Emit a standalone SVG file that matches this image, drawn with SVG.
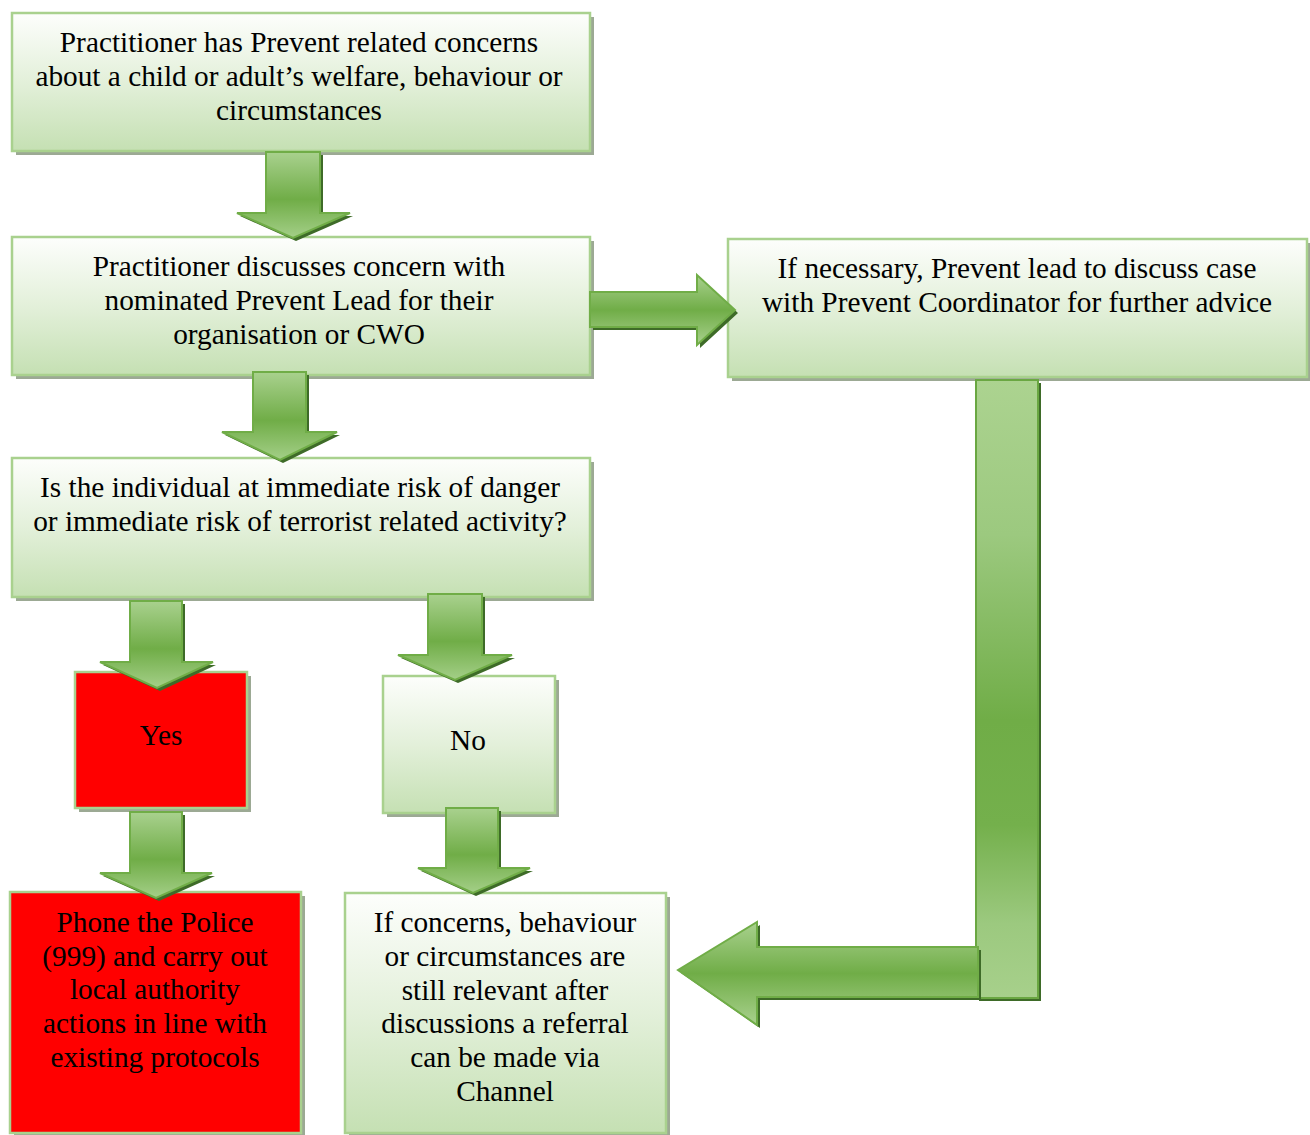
<svg xmlns="http://www.w3.org/2000/svg" width="1310" height="1135" viewBox="0 0 1310 1135">
<defs>
<linearGradient id="boxg" x1="0" y1="0" x2="0" y2="1">
<stop offset="0" stop-color="#fdfefc"/>
<stop offset="0.5" stop-color="#e3f0da"/>
<stop offset="1" stop-color="#c5e0b3"/>
</linearGradient>
<linearGradient id="arrg" x1="0" y1="0" x2="0" y2="1">
<stop offset="0" stop-color="#a9d18e"/>
<stop offset="0.55" stop-color="#70ad47"/>
<stop offset="1" stop-color="#a4cf88"/>
</linearGradient>
<linearGradient id="harrg" x1="0" y1="0" x2="0" y2="1">
<stop offset="0" stop-color="#a9d18e"/>
<stop offset="0.5" stop-color="#70ad47"/>
<stop offset="1" stop-color="#a9d18e"/>
</linearGradient>
<linearGradient id="barg" x1="0" y1="0" x2="0" y2="1">
<stop offset="0" stop-color="#acd390"/>
<stop offset="0.25" stop-color="#9cc97f"/>
<stop offset="0.55" stop-color="#70ad47"/>
<stop offset="0.72" stop-color="#74b04c"/>
<stop offset="0.88" stop-color="#9cc97f"/>
<stop offset="1" stop-color="#a7d08b"/>
</linearGradient>
</defs>
<style>
.shadow{fill:#9ca994}
.box{fill:url(#boxg);stroke:#a9d18e;stroke-width:2.5}
.red{fill:#ff0000;stroke:#a9d18e;stroke-width:2.5}
.ash{fill:#3e6b28}
.arr{fill:url(#arrg);stroke:#70ad47;stroke-width:2}
.harr{fill:url(#harrg);stroke:#70ad47;stroke-width:2}
.bar{fill:url(#barg);stroke:#6aa742;stroke-width:2}
text{font-family:"Liberation Serif","Times New Roman",serif;font-size:29.3px;fill:#000;text-anchor:middle}
</style>

<g id="n1"><rect x="16" y="17" width="578" height="138" class="shadow"/><rect x="12" y="13" width="578" height="138" class="box"/>
<text x="299" y="52">Practitioner has Prevent related concerns</text>
<text x="299" y="86">about a child or adult’s welfare, behaviour or</text>
<text x="299" y="120">circumstances</text></g>

<g id="n2"><rect x="16" y="241" width="578" height="138" class="shadow"/><rect x="12" y="237" width="578" height="138" class="box"/>
<text x="299" y="276">Practitioner discusses concern with</text>
<text x="299" y="310">nominated Prevent Lead for their</text>
<text x="299" y="344">organisation or CWO</text></g>

<g id="n3"><rect x="732" y="243" width="579" height="138" class="shadow"/><rect x="728" y="239" width="579" height="138" class="box"/>
<text x="1017" y="278">If necessary, Prevent lead to discuss case</text>
<text x="1017" y="312">with Prevent Coordinator for further advice</text></g>

<g id="n4"><rect x="16" y="462" width="578" height="139" class="shadow"/><rect x="12" y="458" width="578" height="139" class="box"/>
<text x="300" y="497">Is the individual at immediate risk of danger</text>
<text x="300" y="531">or immediate risk of terrorist related activity?</text></g>

<g id="n5"><rect x="79" y="676" width="172" height="136" class="shadow"/><rect x="75" y="672" width="172" height="136" class="red"/>
<text x="161" y="745">Yes</text></g>

<g id="n6"><rect x="387" y="680" width="172" height="137" class="shadow"/><rect x="383" y="676" width="172" height="137" class="box"/>
<text x="468" y="750">No</text></g>

<g id="n7"><rect x="14" y="896" width="291" height="241" class="shadow"/><rect x="10" y="892" width="291" height="241" class="red"/>
<text x="155" y="932">Phone the Police</text>
<text x="155" y="966">(999) and carry out</text>
<text x="155" y="999">local authority</text>
<text x="155" y="1033">actions in line with</text>
<text x="155" y="1067">existing protocols</text></g>

<g id="n8"><rect x="349" y="897" width="321" height="240" class="shadow"/><rect x="345" y="893" width="321" height="240" class="box"/>
<text x="505" y="932">If concerns, behaviour</text>
<text x="505" y="966">or circumstances are</text>
<text x="505" y="1000">still relevant after</text>
<text x="505" y="1033">discussions a referral</text>
<text x="505" y="1067">can be made via</text>
<text x="505" y="1101">Channel</text></g>

<g id="connectors">
<g id="a1"><polygon class="ash" points="269,155 323,155 323,216 353,216 296,241 240,216 269,216"/><polygon class="arr" points="266,152 320,152 320,213 350,213 293,238 237,213 266,213"/></g>
<g id="a2"><polygon class="ash" points="256,375 309,375 309,435 340,435 283,463 225,435 256,435"/><polygon class="arr" points="253,372 306,372 306,432 337,432 280,460 222,432 253,432"/></g>
<g id="a3"><polygon class="ash" points="593,295 700,295 700,278 738,313 700,348 700,330 593,330"/><polygon class="harr" points="590,292 697,292 697,275 735,310 697,345 697,327 590,327"/></g>
<g id="a4"><polygon class="ash" points="133,604 185,604 185,665 216,665 160,691 103,665 133,665"/><polygon class="arr" points="130,601 182,601 182,662 213,662 157,688 100,662 130,662"/></g>
<g id="a5"><polygon class="ash" points="431,597 485,597 485,658 515,658 458,683 401,658 431,658"/><polygon class="arr" points="428,594 482,594 482,655 512,655 455,680 398,655 428,655"/></g>
<g id="a6"><polygon class="ash" points="133,815 185,815 185,876 215,876 159,901 103,876 133,876"/><polygon class="arr" points="130,812 182,812 182,873 212,873 156,898 100,873 130,873"/></g>
<g id="a7"><polygon class="ash" points="449,811 501,811 501,871 533,871 476,896 421,871 449,871"/><polygon class="arr" points="446,808 498,808 498,868 530,868 473,893 418,868 446,868"/></g>
<g id="a8">
<rect x="979" y="383" width="62" height="618" class="ash"/>
<rect x="976" y="380" width="62" height="618" class="bar"/>
<polygon class="ash" points="981,950 760,950 760,925 681,973 760,1028 760,1000 981,1000"/>
<polygon class="harr" points="978,947 757,947 757,922 678,970 757,1025 757,997 978,997"/>
</g>
</g>
</svg>
